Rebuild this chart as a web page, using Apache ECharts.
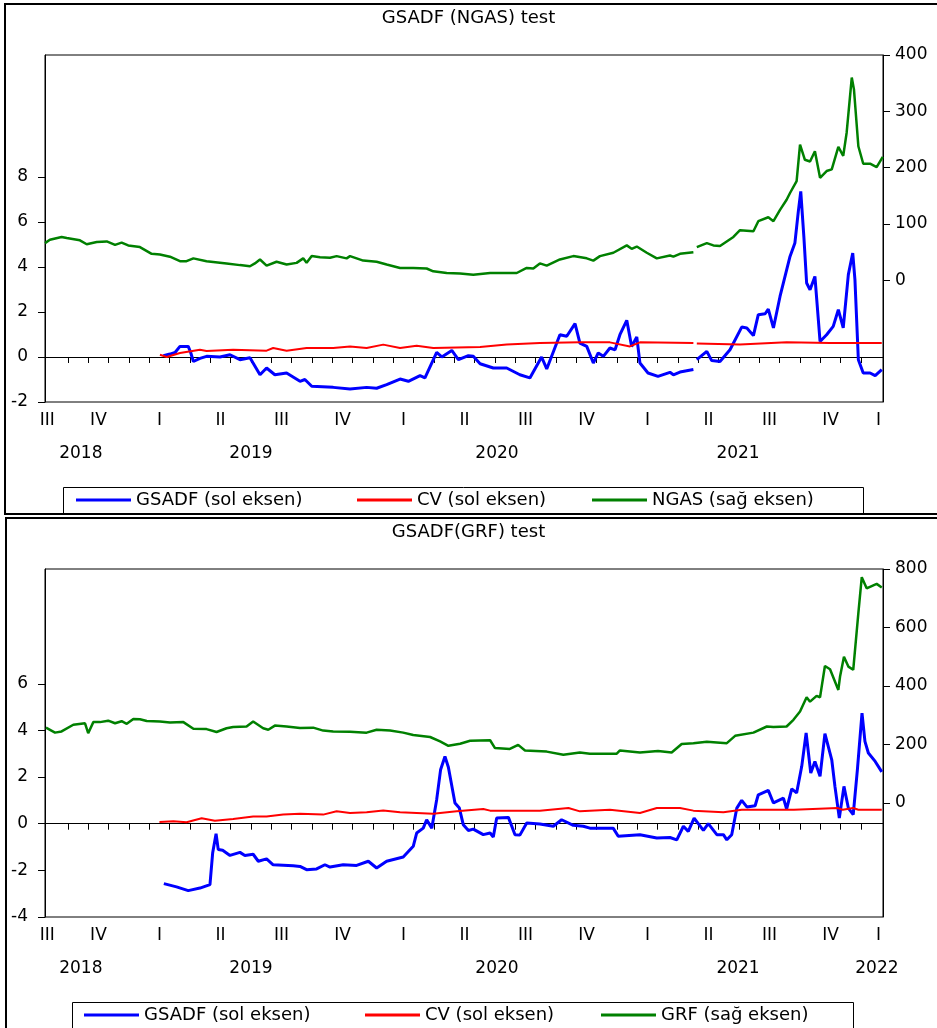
<!DOCTYPE html>
<html>
<head>
<meta charset="utf-8">
<title>GSADF test</title>
<script src="https://cdn.jsdelivr.net/npm/echarts@6/dist/echarts.min.js"></script>
<style>
  html, body { margin: 0; padding: 0; background: #fff; }
  #chart { width: 937px; height: 1028px; }
</style>
</head>
<body>
<div id="chart"></div>
<script>
// x values are decimal years (weekly-ish readings), null = missing obs
const quarterPos = [2018.54, 2018.75, 2019, 2019.25, 2019.5, 2019.75, 2020, 2020.25, 2020.5, 2020.75, 2021, 2021.25, 2021.5, 2021.75, 2021.947];
const quarterText = ['III', 'IV', 'I', 'II', 'III', 'IV', 'I', 'II', 'III', 'IV', 'I', 'II', 'III', 'IV', 'I'];
const yearPosTop = [2018.678, 2019.375, 2020.383, 2021.371];
const yearTextTop = ['2018', '2019', '2020', '2021'];
const yearPosBot = [2018.678, 2019.375, 2020.383, 2021.371, 2021.94];
const yearTextBot = ['2018', '2019', '2020', '2021', '2022'];

const leftTicksTop = [-2, 0, 2, 4, 6, 8];
const rightTicksTop = [0, 100, 200, 300, 400];
const leftTicksBot = [-4, -2, 0, 2, 4, 6];
const rightTicksBot = [0, 200, 400, 600, 800];

// ---- GSADF (NGAS) ----
const gsadfNgas = [
  [2019.016,0.06],[2019.043,0.13],[2019.064,0.20],[2019.084,0.47],[2019.118,0.47],[2019.128,0.20],
  [2019.139,-0.20],[2019.166,-0.06],[2019.193,0.03],[2019.248,0.00],[2019.289,0.10],[2019.330,-0.12],
  [2019.371,-0.03],[2019.412,-0.79],[2019.439,-0.49],[2019.473,-0.79],[2019.521,-0.71],[2019.576,-1.08],
  [2019.596,-1.00],[2019.624,-1.30],[2019.712,-1.35],[2019.781,-1.42],[2019.849,-1.35],[2019.890,-1.39],
  [2019.931,-1.23],[2019.986,-0.98],[2020.020,-1.08],[2020.068,-0.83],[2020.088,-0.93],[2020.136,0.20],
  [2020.157,0.00],[2020.198,0.29],[2020.225,-0.12],[2020.266,0.06],[2020.286,0.03],[2020.314,-0.30],
  [2020.368,-0.49],[2020.423,-0.49],[2020.477,-0.79],[2020.518,-0.93],[2020.566,0.00],[2020.587,-0.53],
  [2020.641,0.99],[2020.669,0.92],[2020.703,1.48],[2020.723,0.62],[2020.751,0.47],[2020.778,-0.27],
  [2020.798,0.18],[2020.819,0.03],[2020.846,0.40],[2020.867,0.32],[2020.887,0.99],[2020.915,1.63],
  [2020.935,0.47],[2020.956,0.89],[2020.969,-0.27],[2021.002,-0.71],[2021.043,-0.86],[2021.092,-0.68],
  [2021.106,-0.79],[2021.133,-0.67],[2021.188,-0.56],[2021.195,null],[2021.202,-0.12],[2021.243,0.25],
  [2021.263,-0.16],[2021.297,-0.20],[2021.338,0.32],[2021.386,1.33],[2021.407,1.29],[2021.434,0.95],
  [2021.454,1.88],[2021.482,1.92],[2021.495,2.13],[2021.516,1.29],[2021.543,2.69],[2021.584,4.47],
  [2021.604,5.07],[2021.618,6.47],[2021.628,7.36],[2021.641,5.29],[2021.652,3.29],[2021.666,2.99],
  [2021.686,3.58],[2021.707,0.69],[2021.734,0.99],[2021.761,1.36],[2021.782,2.10],[2021.802,1.29],
  [2021.823,3.66],[2021.841,4.62],[2021.850,3.44],[2021.864,-0.12],[2021.884,-0.71],[2021.912,-0.71],
  [2021.933,-0.83],[2021.960,-0.56]
];
const cvNgas = [
  [2019.002,0.10],[2019.030,0.00],[2019.084,0.18],[2019.166,0.32],[2019.193,0.27],[2019.302,0.32],
  [2019.439,0.28],[2019.466,0.40],[2019.521,0.28],[2019.603,0.40],[2019.712,0.40],[2019.781,0.47],
  [2019.849,0.40],[2019.917,0.55],[2019.986,0.40],[2020.054,0.50],[2020.122,0.40],[2020.314,0.44],
  [2020.423,0.55],[2020.559,0.62],[2020.723,0.65],[2020.846,0.65],[2020.928,0.47],[2020.969,0.65],
  [2021.188,0.62],[2021.195,null],[2021.202,0.60],[2021.379,0.55],[2021.570,0.65],[2021.748,0.62],
  [2021.960,0.62]
];
const ngas = [
  [2018.531,66],[2018.551,72],[2018.599,77],[2018.620,75],[2018.674,71],[2018.702,64],[2018.743,68],
  [2018.784,69],[2018.818,63],[2018.845,67],[2018.872,62],[2018.920,59],[2018.968,47],[2019.002,46],
  [2019.043,42],[2019.084,34],[2019.111,34],[2019.139,39],[2019.193,34],[2019.275,30],[2019.330,27],
  [2019.371,25],[2019.391,30],[2019.412,37],[2019.439,26],[2019.480,33],[2019.521,28],[2019.562,31],
  [2019.589,39],[2019.603,31],[2019.624,43],[2019.658,41],[2019.699,40],[2019.726,43],[2019.767,39],
  [2019.781,43],[2019.835,35],[2019.890,33],[2019.931,28],[2019.986,22],[2020.040,22],[2020.095,21],
  [2020.122,16],[2020.177,13],[2020.232,12],[2020.286,10],[2020.355,13],[2020.464,13],[2020.505,22],
  [2020.532,21],[2020.559,30],[2020.587,26],[2020.641,37],[2020.696,43],[2020.751,39],[2020.778,35],
  [2020.805,43],[2020.860,49],[2020.915,62],[2020.935,56],[2020.956,60],[2020.997,49],[2021.038,39],
  [2021.092,44],[2021.106,42],[2021.133,47],[2021.188,50],[2021.195,null],[2021.202,59],[2021.243,66],
  [2021.270,62],[2021.297,61],[2021.352,77],[2021.379,89],[2021.434,87],[2021.454,105],[2021.495,112],
  [2021.516,105],[2021.543,125],[2021.570,143],[2021.584,155],[2021.611,176],[2021.625,241],[2021.645,214],
  [2021.666,211],[2021.686,229],[2021.707,182],[2021.734,194],[2021.755,197],[2021.782,237],[2021.802,221],
  [2021.816,262],[2021.837,360],[2021.846,339],[2021.864,238],[2021.884,207],[2021.912,207],[2021.939,201],
  [2021.964,219]
];

// ---- GSADF (GRF) ----
const gsadfGrf = [
  [2019.018,-2.57],[2019.070,-2.71],[2019.118,-2.87],[2019.166,-2.76],[2019.207,-2.61],[2019.218,-1.26],
  [2019.232,-0.43],[2019.241,-1.11],[2019.259,-1.14],[2019.289,-1.36],[2019.330,-1.23],[2019.350,-1.36],
  [2019.384,-1.31],[2019.405,-1.61],[2019.439,-1.51],[2019.466,-1.76],[2019.548,-1.80],[2019.576,-1.83],
  [2019.603,-1.97],[2019.644,-1.94],[2019.678,-1.76],[2019.699,-1.86],[2019.753,-1.76],[2019.808,-1.79],
  [2019.856,-1.61],[2019.890,-1.90],[2019.931,-1.61],[2019.999,-1.43],[2020.040,-0.97],[2020.054,-0.40],
  [2020.081,-0.19],[2020.095,0.17],[2020.116,-0.19],[2020.136,1.03],[2020.152,2.31],[2020.170,2.88],
  [2020.184,2.42],[2020.211,0.89],[2020.229,0.67],[2020.245,-0.04],[2020.266,-0.29],[2020.286,-0.23],
  [2020.327,-0.47],[2020.355,-0.40],[2020.368,-0.57],[2020.382,0.24],[2020.430,0.27],[2020.457,-0.47],
  [2020.477,-0.49],[2020.505,0.03],[2020.559,-0.01],[2020.614,-0.11],[2020.648,0.17],[2020.696,-0.07],
  [2020.737,-0.11],[2020.764,-0.19],[2020.860,-0.20],[2020.880,-0.54],[2020.969,-0.47],[2021.038,-0.61],
  [2021.092,-0.59],[2021.120,-0.69],[2021.147,-0.11],[2021.167,-0.33],[2021.191,0.24],[2021.229,-0.29],
  [2021.249,0.00],[2021.284,-0.47],[2021.311,-0.47],[2021.325,-0.69],[2021.345,-0.47],[2021.366,0.67],
  [2021.386,1.00],[2021.407,0.72],[2021.441,0.77],[2021.454,1.24],[2021.495,1.43],[2021.516,0.89],
  [2021.557,1.10],[2021.570,0.63],[2021.591,1.49],[2021.611,1.32],[2021.632,2.46],[2021.650,3.89],
  [2021.669,2.17],[2021.686,2.67],[2021.707,2.03],[2021.727,3.86],[2021.755,2.74],[2021.768,1.60],
  [2021.786,0.24],[2021.805,1.60],[2021.823,0.67],[2021.843,0.39],[2021.860,2.31],[2021.879,4.74],
  [2021.891,3.53],[2021.905,3.03],[2021.933,2.67],[2021.960,2.22]
];
const cvGrf = [
  [2019.000,0.07],[2019.057,0.10],[2019.111,0.06],[2019.173,0.23],[2019.227,0.13],[2019.302,0.20],
  [2019.384,0.31],[2019.439,0.31],[2019.507,0.39],[2019.576,0.43],[2019.671,0.39],[2019.726,0.53],
  [2019.781,0.46],[2019.849,0.49],[2019.917,0.57],[2019.986,0.49],[2020.122,0.43],[2020.150,0.46],
  [2020.218,0.53],[2020.327,0.63],[2020.355,0.56],[2020.559,0.56],[2020.676,0.67],[2020.723,0.53],
  [2020.846,0.60],[2020.969,0.46],[2021.038,0.67],[2021.133,0.67],[2021.188,0.56],[2021.311,0.49],
  [2021.386,0.60],[2021.600,0.60],[2021.780,0.67],[2021.800,0.60],[2021.843,0.67],[2021.864,0.60],
  [2021.960,0.60]
];
const grf = [
  [2018.535,257],[2018.572,240],[2018.599,244],[2018.647,267],[2018.695,272],[2018.708,238],[2018.729,276],
  [2018.756,276],[2018.790,281],[2018.818,272],[2018.845,279],[2018.866,270],[2018.893,287],[2018.920,286],
  [2018.948,280],[2019.002,278],[2019.043,275],[2019.098,276],[2019.139,253],[2019.193,252],[2019.234,242],
  [2019.275,255],[2019.302,259],[2019.357,261],[2019.384,278],[2019.425,255],[2019.446,250],[2019.473,264],
  [2019.521,261],[2019.576,256],[2019.630,257],[2019.671,247],[2019.712,244],[2019.781,243],[2019.849,240],
  [2019.890,250],[2019.945,247],[2019.999,240],[2020.040,232],[2020.109,225],[2020.150,210],[2020.184,195],
  [2020.232,202],[2020.273,212],[2020.355,214],[2020.375,187],[2020.436,184],[2020.470,198],[2020.498,179],
  [2020.587,175],[2020.655,164],[2020.723,172],[2020.764,168],[2020.874,168],[2020.887,179],[2020.969,172],
  [2021.043,177],[2021.099,172],[2021.140,201],[2021.188,204],[2021.243,209],[2021.325,204],[2021.359,229],
  [2021.434,240],[2021.489,261],[2021.516,259],[2021.570,261],[2021.598,284],[2021.625,312],[2021.652,361],
  [2021.666,346],[2021.693,366],[2021.707,361],[2021.727,468],[2021.748,457],[2021.782,386],[2021.789,432],
  [2021.805,500],[2021.823,466],[2021.843,455],[2021.864,649],[2021.878,772],[2021.898,734],[2021.939,749],
  [2021.960,737]
];

const xMin = 2018.531, xMax = 2021.965;
const FONT = 'DejaVu Sans';

// monthly ticks (mid-month, as in the source plot)
const monthTicks = [];
for (let m = 7; m <= 46; m++) monthTicks.push(2018 + (m + 0.5) / 12);

function pick(pos, text) {
  return function (v) {
    let best = 0;
    for (let i = 1; i < pos.length; i++) {
      if (Math.abs(pos[i] - v) < Math.abs(pos[best] - v)) best = i;
    }
    return text[best];
  };
}

function gap(d) {
  return d.map(p => [p[0], p[1] === null ? '-' : p[1]]);
}

function quarterAxis(grid) {
  return {
    gridIndex: grid, type: 'value', min: xMin, max: xMax,
    axisLine: { show: true, lineStyle: { color: '#000', width: 1 } },
    axisTick: { show: true, customValues: monthTicks, length: 6, lineStyle: { color: '#000' } },
    axisLabel: { customValues: quarterPos, formatter: pick(quarterPos, quarterText),
      color: '#000', fontFamily: FONT, fontSize: 17, margin: 10 },
    splitLine: { show: false }
  };
}
function yearAxis(grid, pos, text) {
  return {
    gridIndex: grid, type: 'value', min: xMin, max: xMax, position: 'bottom',
    axisLine: { show: false }, axisTick: { show: false },
    axisLabel: { customValues: pos, formatter: pick(pos, text),
      color: '#000', fontFamily: FONT, fontSize: 17, margin: 43 },
    splitLine: { show: false }
  };
}
function yAxis(grid, side, min, max, ticks) {
  return {
    gridIndex: grid, type: 'value', position: side, min: min, max: max,
    axisLine: { show: true, lineStyle: { color: '#000', width: 1 } },
    axisTick: { show: true, customValues: ticks, length: 7, lineStyle: { color: '#000' } },
    axisLabel: { customValues: ticks, color: '#000', fontFamily: FONT, fontSize: 17,
      margin: side === 'left' ? 17 : 12 },
    splitLine: { show: false }
  };
}
function lineSeries(name, data, xi, yi, color, width) {
  return {
    name: name, type: 'line', xAxisIndex: xi, yAxisIndex: yi, data: gap(data),
    symbol: 'none', connectNulls: false,
    lineStyle: { color: color, width: width }, itemStyle: { color: color }
  };
}
function legendItem(name, left, top) {
  return {
    data: [name], left: left, top: top, padding: 0, itemGap: 0,
    icon: 'rect', itemWidth: 55, itemHeight: 3,
    textStyle: { color: '#000', fontFamily: FONT, fontSize: 18 }
  };
}

const myChart = echarts.init(document.getElementById('chart'));
const option = {
  animation: false,
  backgroundColor: '#fff',
  title: [
    { text: 'GSADF (NGAS) test', left: 'center', top: 4,
      textStyle: { fontFamily: FONT, fontSize: 18, fontWeight: 'normal', color: '#000' } },
    { text: 'GSADF(GRF) test', left: 'center', top: 518,
      textStyle: { fontFamily: FONT, fontSize: 18, fontWeight: 'normal', color: '#000' } }
  ],
  grid: [
    { left: 45, right: 54, top: 55, height: 347, show: true, borderColor: '#000', borderWidth: 1, outerBoundsMode: 'none' },
    { left: 45, right: 54, top: 569, height: 348, show: true, borderColor: '#000', borderWidth: 1, outerBoundsMode: 'none' }
  ],
  xAxis: [
    quarterAxis(0), yearAxis(0, yearPosTop, yearTextTop),
    quarterAxis(1), yearAxis(1, yearPosBot, yearTextBot)
  ],
  yAxis: [
    yAxis(0, 'left', -2, 13.42, leftTicksTop),
    yAxis(0, 'right', -216, 400, rightTicksTop),
    yAxis(1, 'left', -4, 10.92, leftTicksBot),
    yAxis(1, 'right', -391, 800, rightTicksBot)
  ],
  legend: [
    legendItem('GSADF (sol eksen)', 76, 491),
    legendItem('CV (sol eksen)', 357, 491),
    legendItem('NGAS (sağ eksen)', 592, 491),
    legendItem('GSADF (sol eksen)', 84, 1006),
    legendItem('CV (sol eksen)', 365, 1006),
    legendItem('GRF (sağ eksen)', 601, 1006)
  ],
  series: [
    lineSeries('GSADF (sol eksen)', gsadfNgas, 0, 0, '#0000ff', 3),
    lineSeries('CV (sol eksen)', cvNgas, 0, 0, '#ff0000', 2),
    lineSeries('NGAS (sağ eksen)', ngas, 0, 1, '#008000', 2.5),
    lineSeries('GSADF (sol eksen)', gsadfGrf, 2, 2, '#0000ff', 3),
    lineSeries('CV (sol eksen)', cvGrf, 2, 2, '#ff0000', 2),
    lineSeries('GRF (sağ eksen)', grf, 2, 3, '#008000', 2.5)
  ],
  graphic: [
    { type: 'rect', silent: true, shape: { x: 5, y: 4, width: 940, height: 510 },
      style: { fill: 'none', stroke: '#000', lineWidth: 2 } },
    { type: 'rect', silent: true, shape: { x: 6, y: 518, width: 940, height: 520 },
      style: { fill: 'none', stroke: '#000', lineWidth: 2 } },
    { type: 'rect', silent: true, shape: { x: 63.5, y: 487.5, width: 800, height: 27 },
      style: { fill: 'none', stroke: '#000', lineWidth: 1 } },
    { type: 'rect', silent: true, shape: { x: 72.5, y: 1002.5, width: 781, height: 30 },
      style: { fill: 'none', stroke: '#000', lineWidth: 1 } }
  ]
};
myChart.setOption(option);

window.addEventListener('resize', function () {
  myChart.resize();
}, false);
</script>
</body>
</html>
